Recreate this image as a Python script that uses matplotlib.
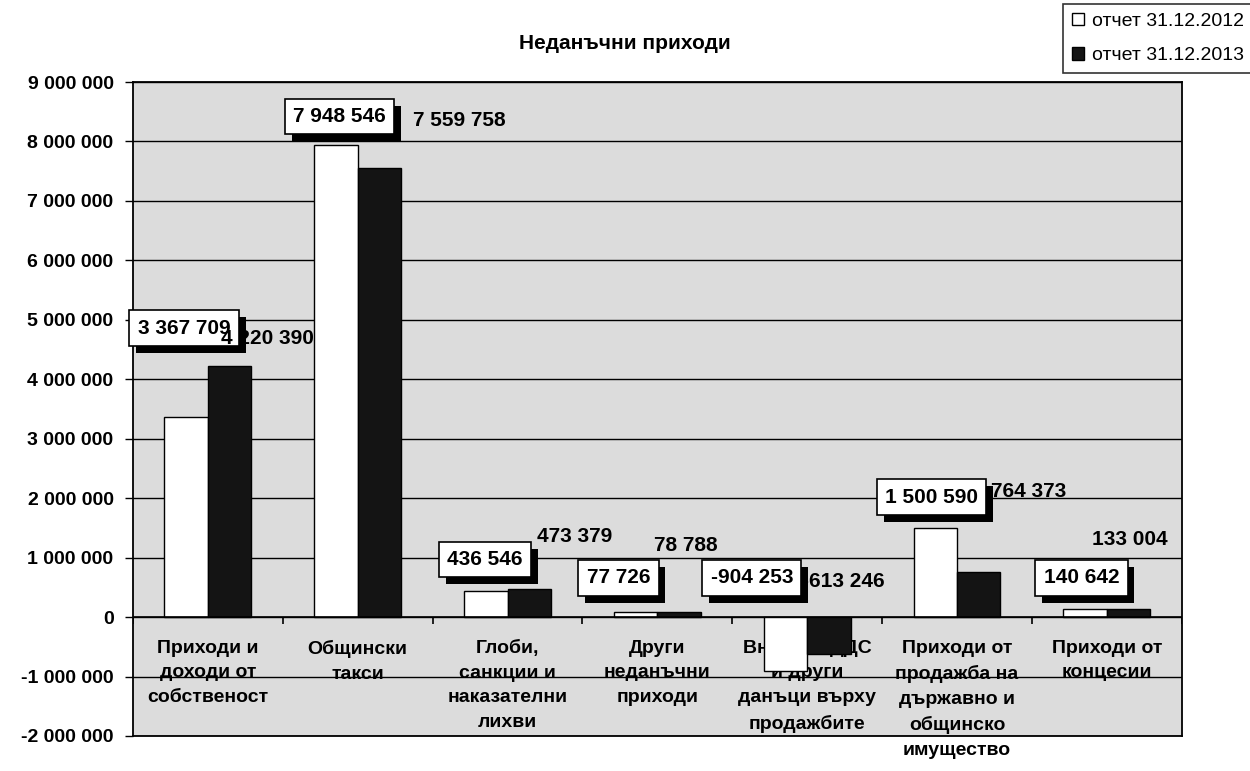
import matplotlib.pyplot as plt
import matplotlib.patheffects as pe
import numpy as np

categories = [
    'Приходи и\nдоходи от\nсобственост',
    'Общински\nтакси',
    'Глоби,\nсанкции и\nнаказателни\nлихви',
    'Други\nнеданъчни\nприходи',
    'Внесени ДДС\nи други\nданъци върху\nпродажбите',
    'Приходи от\nпродажба на\nдържавно и\nобщинско\nимущество',
    'Приходи от\nконцесии',
]
series_names = ['отчет 31.12.2012', 'отчет 31.12.2013']
values_2012 = [3367709, 7948546, 436546, 77726, -904253, 1500590, 140642]
values_2013 = [4220390, 7559758, 473379, 78788, -613246, 764373, 133004]

# label positions (moved by hand in the original): (dx in category units, y)
pos_2012 = [(-0.16, 4.86e6), (-0.12, 8.42e6), (-0.15, 0.97e6), (-0.26, 0.66e6),
            (-0.37, 0.66e6), (-0.17, 2.02e6), (-0.17, 0.66e6)]
pos_2013 = [(0.40, 4.68e6), (0.68, 8.35e6), (0.45, 1.35e6), (0.19, 1.20e6),
            (0.24, 0.60e6), (0.48, 2.12e6), (0.15, 1.30e6)]

plt.rcParams['font.family'] = ['Liberation Sans', 'DejaVu Sans']


def fmt(v):
    return f'{v:,.0f}'.replace(',', ' ')


fig = plt.figure(figsize=(12.5, 7.71), dpi=100)
ax = fig.add_axes([0.1064, 0.0454, 0.839, 0.8482])
ax.set_facecolor('#dcdcdc')

x = np.arange(len(categories))
w = 0.29
ax.bar(x - w / 2, values_2012, w, color='white', edgecolor='black', lw=1.0,
       label=series_names[0], zorder=3)
ax.bar(x + w / 2, values_2013, w, color='#141414', edgecolor='black', lw=1.0,
       label=series_names[1], zorder=3)

ax.set_xlim(-0.5, len(categories) - 0.5)
ax.set_ylim(-2e6, 9e6)
yt = np.arange(-2e6, 9.1e6, 1e6)
ax.set_yticks(yt)
ax.set_yticklabels([fmt(v) for v in yt], fontsize=14, fontweight='bold')
ax.tick_params(axis='y', length=6, direction='out', width=1, pad=8)
ax.set_xticks([])
ax.grid(axis='y', color='black', lw=1.0, zorder=1)
ax.axhline(0, color='black', lw=1.2, zorder=4)
for s in ax.spines.values():
    s.set_linewidth(1.3)

# category tick marks on the zero line
ax.vlines(np.arange(len(categories) + 1) - 0.5, -1.2e5, 0, color='black',
          lw=1.2, zorder=4)

# category names sit inside the plot, under grid lines and bars
for i, c in enumerate(categories):
    ax.text(i, -3.8e5, c, ha='center', va='top', fontsize=14,
            fontweight='bold', linespacing=1.6, zorder=0.9)

shadow = [pe.withSimplePatchShadow(offset=(5, -5), shadow_rgbFace='black', alpha=1)]
for i, v in enumerate(values_2012):
    dx, y = pos_2012[i]
    t = ax.text(i + dx, y, fmt(v), ha='center', va='center', fontsize=15,
                fontweight='bold', zorder=6,
                bbox=dict(boxstyle='square,pad=0.4', fc='white', ec='black', lw=1.2))
    t.get_bbox_patch().set_path_effects(shadow)
for i, v in enumerate(values_2013):
    dx, y = pos_2013[i]
    ax.text(i + dx, y, fmt(v), ha='center', va='center', fontsize=15,
            fontweight='bold', zorder=7)

fig.text(0.5, 0.944, 'Неданъчни приходи', ha='center', va='center',
         fontsize=15, fontweight='bold')

leg = fig.legend(loc='upper right', bbox_to_anchor=(1.005, 1.0), fontsize=14,
                 frameon=True, fancybox=False, edgecolor='black',
                 handlelength=0.6, handleheight=0.6, handletextpad=0.4,
                 borderpad=0.45, labelspacing=0.9, borderaxespad=0.2)
leg.get_frame().set_linewidth(1.2)

fig.savefig('out.png', dpi=100)
